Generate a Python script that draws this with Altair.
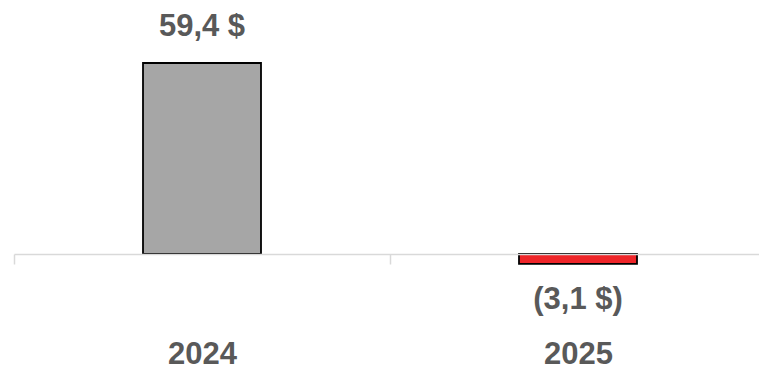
import altair as alt
import pandas as pd

years = ["2024", "2025"]
values = [59.4, -3.1]
labels = ["59,4 $", "(3,1 $)"]
colors = ["#a6a6a6", "#ee2529"]

df = pd.DataFrame({"year": years, "value": values, "label": labels, "color": colors})

FONT = "Liberation Sans"
FS = 31

x = alt.X(
    "year:N",
    sort=years,
    scale=alt.Scale(range=[0, 752], paddingInner=0, paddingOuter=0),
    axis=alt.Axis(
        title=None,
        labelAngle=0,
        tickBand="extent",
        domainColor="#d9d9d9",
        tickColor="#d9d9d9",
        domainWidth=1.5,
        tickWidth=1.5,
        tickSize=10,
        labelFont=FONT,
        labelFontSize=FS,
        labelFontWeight="bold",
        labelColor="#595959",
        labelPadding=75,
        offset=-116,
        zindex=1,
    ),
)
y = alt.Y(
    "value:Q",
    scale=alt.Scale(domain=[-36.08, 79.0], nice=False, zero=False),
    axis=None,
)

base = alt.Chart(df).encode(x=x, y=y)

bars = base.mark_bar(size=118, stroke="black", strokeWidth=1.8).encode(
    y2=alt.datum(0),
    color=alt.Color("color:N", scale=None),
)

pos_text = base.transform_filter("datum.value >= 0").mark_text(
    font=FONT, fontSize=FS, fontWeight="bold", color="#595959",
    baseline="middle", dy=-36,
).encode(text="label:N")

neg_text = base.transform_filter("datum.value < 0").mark_text(
    font=FONT, fontSize=FS, fontWeight="bold", color="#595959",
    baseline="middle", dy=36,
).encode(text="label:N")

chart = alt.layer(bars, pos_text, neg_text).properties(
    width=745,
    height=370,
    autosize=alt.AutoSizeParams(type="none"),
    padding={"left": 14, "top": 0, "right": 0, "bottom": 0},
).configure_view(stroke=None)

chart.save("out.html", embed_options={"renderer": "svg", "actions": False})
